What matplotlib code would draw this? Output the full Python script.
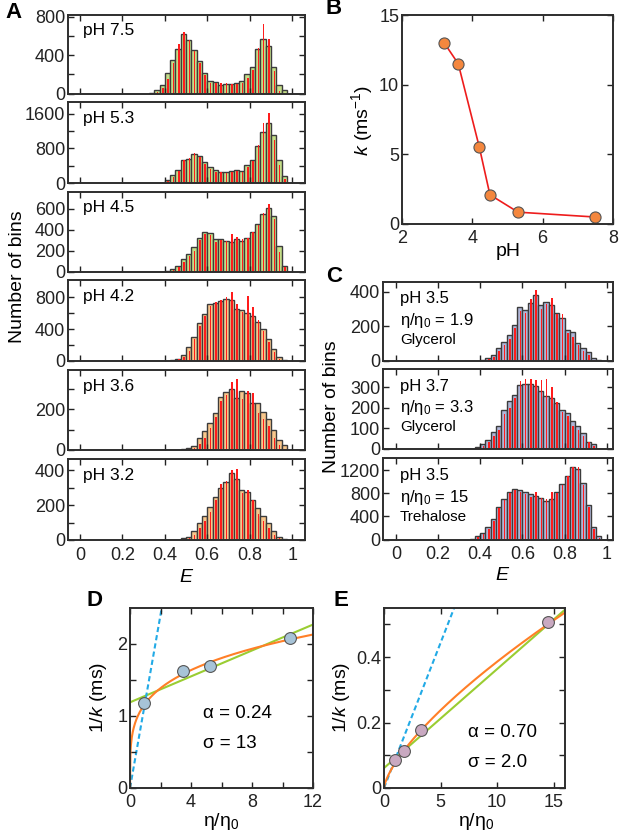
import numpy as np
import matplotlib
matplotlib.use("Agg")
import matplotlib.pyplot as plt

plt.rcParams['font.family'] = ['Liberation Sans', 'DejaVu Sans']
plt.rcParams['mathtext.fontset'] = 'custom'
plt.rcParams['mathtext.rm'] = 'Liberation Sans'
plt.rcParams['mathtext.it'] = 'Liberation Sans:italic'
plt.rcParams['mathtext.default'] = 'regular'

W, H = 621, 833

# FRET efficiency bin centres (bin width 0.025)
e_bins = [0.3375, 0.3625, 0.3875, 0.4125, 0.4375, 0.4625, 0.4875, 0.5125, 0.5375,
          0.5625, 0.5875, 0.6125, 0.6375, 0.6625, 0.6875, 0.7125, 0.7375, 0.7625,
          0.7875, 0.8125, 0.8375, 0.8625, 0.8875, 0.9125, 0.9375, 0.9625]

# panel A: measured (filled) and simulated (red) histograms
ph75 = [10, 40, 90, 210, 350, 470, 620, 560, 450, 340, 210, 130, 120, 90, 100, 100,
        110, 130, 200, 280, 460, 570, 500, 280, 90, 40]
ph75_red = [5, 20, 55, 150, 320, 520, 640, 560, 440, 320, 190, 110, 105, 110, 105, 100,
            100, 110, 160, 250, 480, 730, 570, 230, 30, 0]
ph53 = [0, 0, 10, 60, 175, 300, 540, 560, 660, 620, 480, 370, 290, 260, 260, 280,
        290, 280, 420, 520, 850, 1170, 1380, 1110, 520, 170]
ph53_red = [0, 0, 5, 40, 140, 280, 520, 570, 700, 600, 450, 320, 260, 250, 240, 260,
            280, 260, 360, 500, 880, 1390, 1610, 1000, 420, 100]
ph45 = [0, 0, 0, 6, 22, 57, 115, 168, 232, 322, 376, 367, 311, 306, 291, 281,
        308, 293, 321, 375, 450, 552, 608, 527, 242, 51]
ph45_red = [0, 0, 0, 3, 12, 40, 95, 150, 200, 300, 360, 345, 285, 300, 290, 360,
            330, 310, 320, 380, 440, 560, 650, 500, 190, 40]
ph42 = [0, 0, 0, 0, 10, 30, 70, 170, 300, 480, 585, 710, 730, 750, 775, 765,
        650, 640, 600, 560, 490, 400, 270, 145, 50, 15]
ph42_red = [0, 0, 0, 0, 5, 20, 50, 130, 270, 440, 560, 690, 740, 770, 800, 870,
            720, 620, 820, 680, 520, 380, 240, 110, 20, 0]
ph36 = [0, 0, 0, 0, 0, 0, 3, 8, 22, 58, 91, 130, 180, 260, 285, 297,
        255, 287, 277, 232, 228, 187, 150, 99, 50, 23]
ph36_red = [0, 0, 0, 0, 0, 0, 0, 3, 10, 30, 60, 110, 160, 240, 270, 335,
            350, 250, 290, 280, 180, 150, 120, 60, 25, 5]
ph32 = [0, 0, 0, 0, 0, 0, 10, 19, 50, 100, 140, 190, 245, 295, 333, 381,
        349, 285, 276, 230, 185, 140, 95, 50, 20, 8]
ph32_red = [0, 0, 0, 0, 0, 0, 5, 12, 30, 70, 110, 160, 230, 320, 340, 400,
            405, 270, 285, 230, 150, 110, 70, 30, 10, 0]

# panel C: viscogen histograms
gly19 = [0, 0, 0, 4, 17, 33, 76, 109, 149, 211, 312, 293, 337, 382, 324, 341,
         322, 279, 246, 182, 169, 105, 76, 50, 17, 6]
gly19_red = [0, 0, 0, 2, 10, 25, 60, 95, 130, 190, 290, 280, 357, 410, 300, 330,
             367, 270, 270, 160, 140, 90, 60, 35, 8, 0]
gly33 = [0, 0, 5, 23, 43, 80, 108, 190, 231, 264, 313, 316, 316, 305, 280, 256,
         248, 223, 190, 174, 133, 108, 75, 31, 20, 0]
gly33_red = [0, 0, 3, 10, 30, 60, 90, 170, 200, 250, 330, 340, 340, 335, 335, 340,
             300, 230, 180, 160, 110, 90, 60, 30, 10, 0]
tre15 = [0, 17, 58, 116, 220, 348, 568, 702, 829, 870, 858, 818, 783, 754, 725, 667,
         696, 829, 957, 1102, 1253, 1218, 974, 597, 220, 58]
tre15_red = [0, 8, 40, 90, 190, 320, 540, 690, 800, 850, 830, 790, 740, 818, 720, 700,
             829, 800, 950, 1100, 1260, 1250, 950, 560, 180, 30]

# panel B: rate vs pH
ph_vals = [3.2, 3.6, 4.2, 4.5, 5.3, 7.5]
k_vals = [13.0, 11.5, 5.5, 2.1, 0.85, 0.5]

# panel D / E: 1/k vs relative viscosity
d_eta = [0.93, 3.5, 5.27, 10.5]
d_invk = [1.18, 1.62, 1.69, 2.08]
d_linear = ([0, 2.08], [0, 2.5])
d_green = ([0, 12], [1.19, 2.27])
d_alpha, d_amp = 0.24, 1.174

e_eta = [1.0, 1.8, 3.3, 14.5]
e_invk = [0.086, 0.112, 0.176, 0.508]
e_linear = ([0, 6.2], [0, 0.55])
e_green = ([0, 16], [0.061, 0.545])
e_alpha, e_amp = 0.70, 0.077

GREEN = '#c4de88'
PEACH = '#f8c78c'
LAV = '#b0b6d8'
RED = '#ff1c1c'
EDGE = '#3c3c3c'
SPINE = '#2e2e2e'


def box(l, t, r, b):
    return [l / W, 1 - b / H, (r - l) / W, (b - t) / H]


def style(ax, fs=13):
    for s in ax.spines.values():
        s.set_linewidth(1.4)
        s.set_color(SPINE)
    ax.tick_params(direction='in', top=True, right=True, length=4.5, width=1,
                   labelsize=fs, pad=2, colors='#222222')


def hist_panel(ax, counts, red, fill, ylim, yticks, ylabels, xlim, show_x):
    ax.bar(e_bins, counts, width=0.025, color=fill, edgecolor=EDGE, linewidth=1.0)
    ax.bar(np.array(e_bins) + 0.003, red, width=0.0075, color=RED, linewidth=0)
    ax.set_xlim(*xlim)
    ax.set_ylim(*ylim)
    ax.set_xticks([0, 0.2, 0.4, 0.6, 0.8, 1.0])
    ax.set_xticklabels(['0', '0.2', '0.4', '0.6', '0.8', '1'])
    ax.set_yticks(yticks)
    ax.set_yticklabels(ylabels)
    style(ax)
    ax.tick_params(axis='x', labelbottom=show_x, pad=5)


fig = plt.figure(figsize=(W / 100, H / 100), dpi=100)

a_rows = [(15, 93.5), (102, 183), (192, 271.5), (280.5, 361), (370, 450), (459, 540)]
a_data = [
    ('pH 7.5', ph75, ph75_red, GREEN, (0, 820), [0, 200, 400, 600, 800], ['0', '', '400', '', '800']),
    ('pH 5.3', ph53, ph53_red, GREEN, (0, 1870), [0, 400, 800, 1200, 1600], ['0', '', '800', '', '1600']),
    ('pH 4.5', ph45, ph45_red, GREEN, (0, 760), [0, 200, 400, 600], ['0', '200', '400', '600']),
    ('pH 4.2', ph42, ph42_red, PEACH, (0, 1010), [0, 200, 400, 600, 800], ['0', '', '400', '', '800']),
    ('pH 3.6', ph36, ph36_red, PEACH, (0, 392), [0, 100, 200, 300], ['0', '', '200', '']),
    ('pH 3.2', ph32, ph32_red, PEACH, (0, 463), [0, 100, 200, 300, 400], ['0', '', '200', '', '400']),
]
for i, ((t, b), (lab, cnt, red, col, yl, yt, ytl)) in enumerate(zip(a_rows, a_data)):
    ax = fig.add_axes(box(68, t, 305, b))
    hist_panel(ax, cnt, red, col, yl, yt, ytl, (-0.056, 1.06), i == 5)
    ax.text(0.063, 0.8, lab, transform=ax.transAxes, fontsize=12.5, va='center')

c_rows = [(281.5, 361), (369, 448.5), (458, 539.5)]
c_data = [
    ('pH 3.5', '1.9', 'Glycerol', gly19, gly19_red, (0, 460), [0, 200, 400], ['0', '200', '400']),
    ('pH 3.7', '3.3', 'Glycerol', gly33, gly33_red, (0, 390), [0, 100, 200, 300], ['0', '100', '200', '300']),
    ('pH 3.5', '15', 'Trehalose', tre15, tre15_red, (0, 1410), [0, 400, 800, 1200], ['0', '400', '800', '1200']),
]
for i, ((t, b), (lab, visc, agent, cnt, red, yl, yt, ytl)) in enumerate(zip(c_rows, c_data)):
    ax = fig.add_axes(box(383, t, 613, b))
    hist_panel(ax, cnt, red, LAV, yl, yt, ytl, (-0.061, 1.03), i == 2)
    ax.text(0.074, 0.78, lab, transform=ax.transAxes, fontsize=12, va='center')
    ax.text(0.074, 0.51, r'$η/η_0$ = ' + visc, transform=ax.transAxes, fontsize=12, va='center')
    ax.text(0.074, 0.27, agent, transform=ax.transAxes, fontsize=11, va='center')

# panel B
axb = fig.add_axes(box(402, 15, 613, 224))
axb.plot(ph_vals, k_vals, '-', color='#ee1c1c', lw=1.2, zorder=1)
axb.plot(ph_vals, k_vals, 'o', ms=8, mfc='#f4873e', mec='#555555', mew=0.8, zorder=2)
axb.set_xlim(2, 8)
axb.set_ylim(0, 15)
axb.set_xticks([2, 4, 6, 8])
axb.set_yticks([0, 5, 10, 15])
style(axb)
axb.tick_params(axis='x', pad=4)

# panel D
axd = fig.add_axes(box(130, 608, 313, 788))
xd = np.linspace(0, 12, 400)
axd.plot(xd, d_amp * xd ** d_alpha, color='#ff7f27', lw=1.5, zorder=2)
axd.plot(*d_green, color='#9acd32', lw=1.5, zorder=1)
axd.plot(*d_linear, color='#22aae6', lw=1.5, ls=(0, (2.5, 1.5)), zorder=1)
axd.plot(d_eta, d_invk, 'o', ms=8.5, mfc='#a7c3d7', mec='#555555', mew=0.8, zorder=3)
axd.set_xlim(0, 12)
axd.set_ylim(0, 2.5)
axd.set_xticks([0, 2, 4, 6, 8, 10, 12])
axd.set_xticklabels(['0', '', '4', '', '8', '', '12'])
axd.set_yticks([0, 0.5, 1, 1.5, 2])
axd.set_yticklabels(['0', '', '1', '', '2'])
style(axd)
axd.tick_params(axis='x', pad=4)
axd.text(4.8, 1.04, 'α = 0.24', fontsize=13.5, va='center')
axd.text(4.8, 0.62, 'σ = 13', fontsize=13.5, va='center')

# panel E
axe = fig.add_axes(box(384, 608, 565, 788))
xe = np.linspace(0, 16, 400)
axe.plot(xe, e_amp * xe ** e_alpha, color='#ff7f27', lw=1.5, zorder=2)
axe.plot(*e_green, color='#9acd32', lw=1.5, zorder=1)
axe.plot(*e_linear, color='#22aae6', lw=1.5, ls=(0, (2.5, 1.5)), zorder=1)
axe.plot(e_eta, e_invk, 'o', ms=8.5, mfc='#c9a9c1', mec='#555555', mew=0.8, zorder=3)
axe.set_xlim(0, 16)
axe.set_ylim(0, 0.55)
axe.set_xticks([0, 5, 10, 15])
axe.set_yticks([0, 0.1, 0.2, 0.3, 0.4, 0.5])
axe.set_yticklabels(['0', '', '0.2', '', '0.4', ''])
style(axe)
axe.tick_params(axis='x', pad=4)
axe.text(7.4, 0.17, 'α = 0.70', fontsize=13.5, va='center')
axe.text(7.4, 0.079, 'σ = 2.0', fontsize=13.5, va='center')


def ftext(x, y, s, **kw):
    fig.text(x / W, 1 - y / H, s, ha='center', va='center', **kw)


ftext(18, 277, 'Number of bins', fontsize=14, rotation=90)
ftext(186, 578, 'E', fontsize=14, style='italic')
ftext(332, 407, 'Number of bins', fontsize=14, rotation=90)
ftext(502, 576, 'E', fontsize=14, style='italic')
ftext(362, 120, r'$\mathit{k}$ (ms$^{-1}$)', fontsize=14, rotation=90)
ftext(508, 251, 'pH', fontsize=14)
ftext(99, 697, r'1/$\mathit{k}$ (ms)', fontsize=14, rotation=90)
ftext(221, 822, r'$η/η_0$', fontsize=14)
ftext(342, 697, r'1/$\mathit{k}$ (ms)', fontsize=14, rotation=90)
ftext(476, 822, r'$η/η_0$', fontsize=14)

for lab, x, y in [('A', 13, 12), ('B', 334, 9), ('C', 334, 277), ('D', 94, 600), ('E', 341, 600)]:
    ftext(x, y, lab, fontsize=16, fontweight='bold')

fig.savefig('out.png', dpi=100)
